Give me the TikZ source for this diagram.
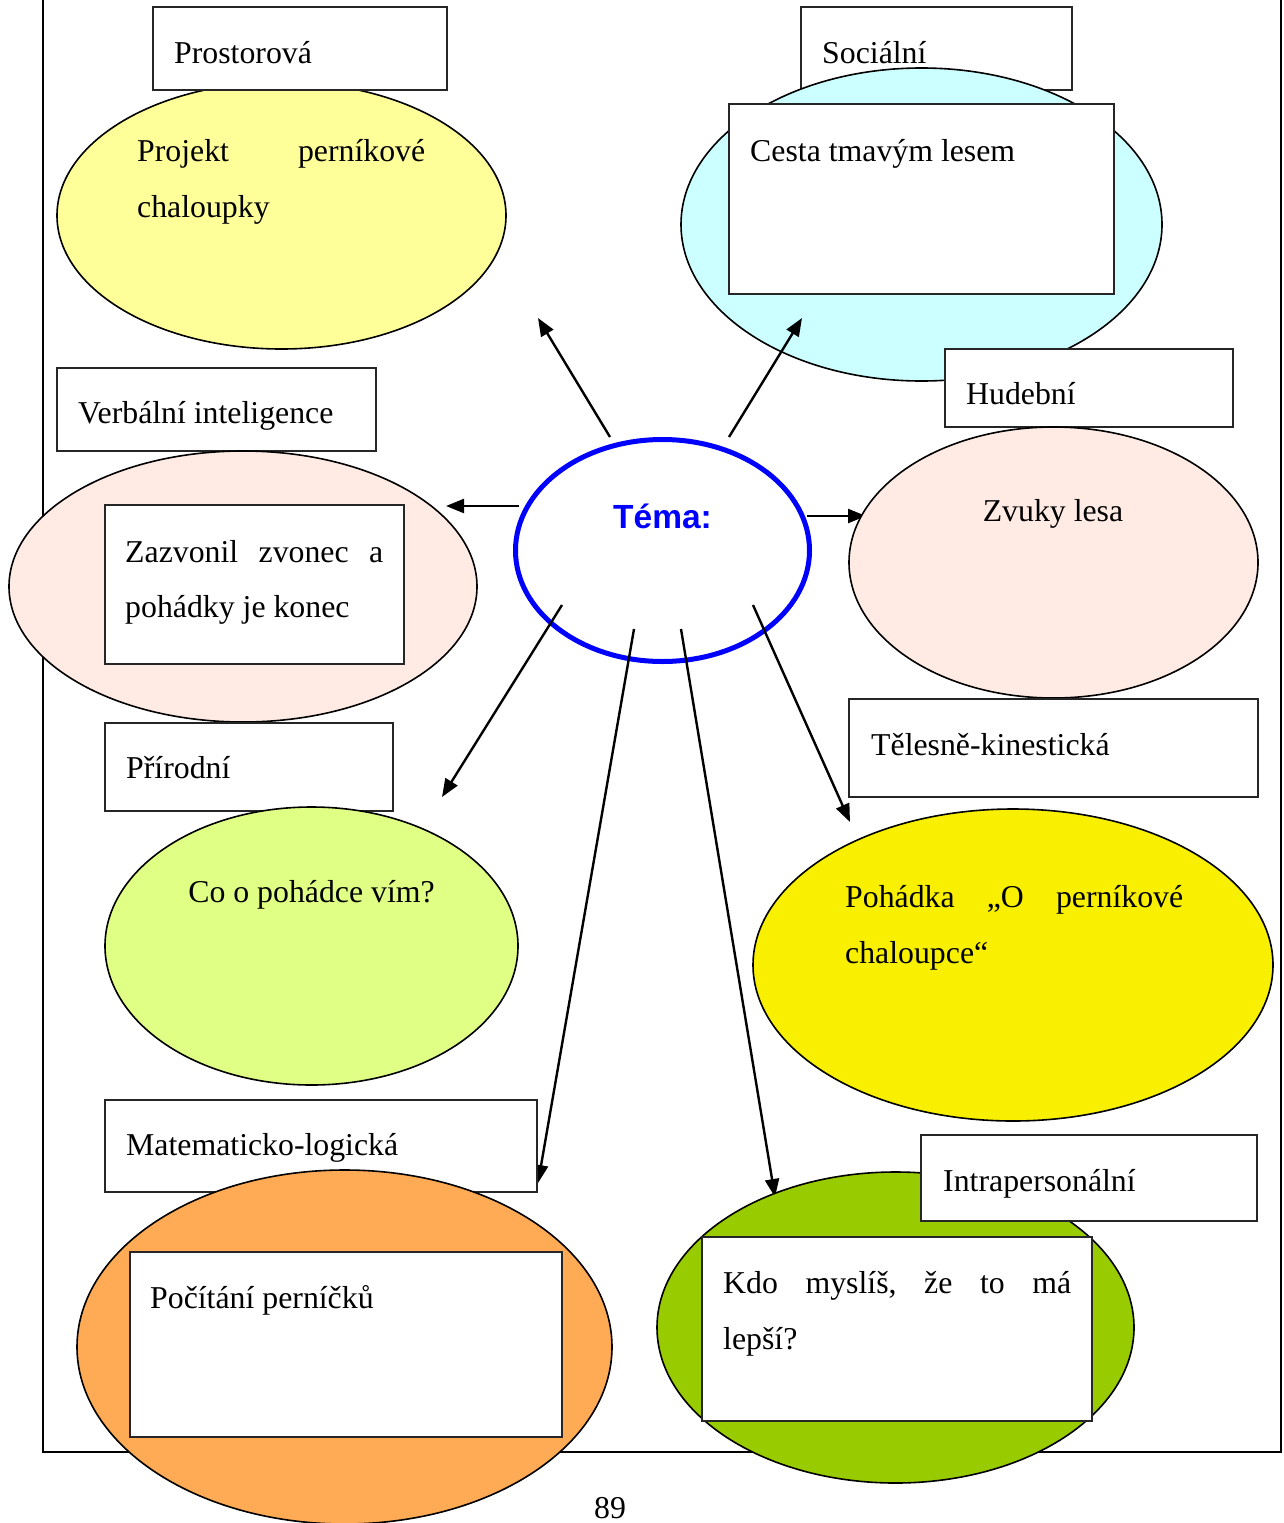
\documentclass[tikz,border=0pt]{standalone}
\usepackage{fontspec}
\setmainfont{Liberation Serif}
\newfontfamily\temafont{Liberation Sans}
\usetikzlibrary{shapes.geometric,arrows.meta}
\definecolor{cyel}{HTML}{FFFF99}
\definecolor{ccyan}{HTML}{CCFFFF}
\definecolor{cpink}{RGB}{255,235,228}
\definecolor{clime}{RGB}{223,255,133}
\definecolor{cyel2}{RGB}{248,240,0}
\definecolor{corange}{RGB}{255,170,85}
\definecolor{cgreen}{HTML}{99CC00}
\begin{document}
\begin{tikzpicture}[x=1pt,y=-1pt,
  lblbox/.style={draw=black!85, line width=1.3pt, fill=white, rectangle, inner sep=0pt},
  oval/.style={ellipse, draw=black, line width=1.6pt, inner sep=0pt},
  txt/.style={inner sep=0pt, anchor=base west, font=\fontsize{31.8}{40}\selectfont},
  ctxt/.style={inner sep=0pt, anchor=base, font=\fontsize{31.8}{40}\selectfont},
  arr/.style={line width=2.4pt, -{Triangle[length=18pt,width=14pt]}},
  framel/.style={line width=2pt}]
\useasboundingbox (0,0) rectangle (1283,1523);
% page frame
\coordinate (f1) at (43,0);
\coordinate (f2) at (43,1452);
\coordinate (f3) at (1281,1452);
\coordinate (f4) at (1281,0);
\draw[framel] (f1) -- (f2) -- (f3) -- (f4);

% Prostorova
\node[oval, fill=cyel, minimum width=449pt, minimum height=267pt] (eP) at (281.5,215.5) {};
\node[lblbox, minimum width=294pt, minimum height=83pt] (bP) at (300,48.5) {};
\node[txt] (tP) at (174,63) {Prostorová};
\node[txt] (tP1) at (137,161) {\hbox to 288pt{Projekt\hfill perníkové}};
\node[txt] (tP2) at (137,217) {chaloupky};

% Socialni
\node[lblbox, minimum width=271pt, minimum height=83pt] (bS) at (936.5,48.5) {};
\node[txt] (tS) at (822,63) {Sociální};
\node[oval, fill=ccyan, minimum width=481pt, minimum height=313pt] (eS) at (921.5,224.5) {};
\node[lblbox, minimum width=385pt, minimum height=190pt] (iS) at (921.5,199) {};
\node[txt] (tS1) at (750,161) {Cesta tmavým lesem};

% Verbalni
\node[lblbox, minimum width=319pt, minimum height=83pt] (bV) at (216.5,409.5) {};
\node[txt] (tV) at (78,423) {Verbální inteligence};
\node[oval, fill=cpink, minimum width=468pt, minimum height=271pt] (eV) at (243,586.5) {};
\node[lblbox, minimum width=299pt, minimum height=159pt] (iV) at (254.5,584.5) {};
\node[txt] (tV1) at (125,562) {\hbox to 258pt{Zazvonil\hfill zvonec\hfill a}};
\node[txt] (tV2) at (125,617) {pohádky je konec};

% centre
\node[ellipse, draw=blue, line width=5pt, fill=white, inner sep=0pt, minimum width=294pt, minimum height=222pt] (c) at (662.5,550.5) {};
\node[inner sep=0pt, anchor=base, text=blue, font=\temafont\bfseries\fontsize{33.5}{40}\selectfont] (tc) at (662.5,528) {Téma:};

% arrows
\coordinate (s1) at (610,437);   \coordinate (e1) at (538,318);
\coordinate (s2) at (729,437);   \coordinate (e2) at (802,318);
\coordinate (s3) at (519,506);   \coordinate (e3) at (446,506);
\coordinate (s4) at (807,516);   \coordinate (e4) at (866,516);
\coordinate (s5) at (562,605);   \coordinate (e5) at (442,797);
\coordinate (s6) at (634,629);   \coordinate (e6) at (538,1183);
\coordinate (s7) at (681,629);   \coordinate (e7) at (775,1197);
\coordinate (s8) at (753,605);   \coordinate (e8) at (850,822);
\foreach \i in {1,...,8} {\draw[arr] (s\i) -- (e\i);}

% Hudebni
\node[lblbox, minimum width=288pt, minimum height=78pt] (bH) at (1089,388) {};
\node[txt] (tH) at (966,404) {Hudební};
\node[oval, fill=cpink, minimum width=409pt, minimum height=271pt] (eH) at (1053.5,562.5) {};
\node[ctxt] (tH1) at (1053,521) {Zvuky lesa};

% Prirodni
\node[lblbox, minimum width=288pt, minimum height=88pt] (bR) at (249,767) {};
\node[txt] (tR) at (126,778) {Přírodní};
\node[oval, fill=clime, minimum width=413pt, minimum height=278pt] (eR) at (311.5,946) {};
\node[ctxt] (tR1) at (311.5,902) {Co o pohádce vím?};

% Telesne
\node[lblbox, minimum width=409pt, minimum height=98pt] (bT) at (1053.5,748) {};
\node[txt] (tT) at (871,755) {Tělesně-kinestická};
\node[oval, fill=cyel2, minimum width=520pt, minimum height=312pt] (eT) at (1013,965) {};
\node[txt] (tT1) at (845,907) {\hbox to 338pt{Pohádka\hfill „O\hfill perníkové}};
\node[txt] (tT2) at (845,963) {chaloupce“};

% Matematicko
\node[lblbox, minimum width=432pt, minimum height=92pt] (bM) at (321,1146) {};
\node[txt] (tM) at (126,1155) {Matematicko-logická};
\node[oval, fill=corange, minimum width=535pt, minimum height=354pt] (eM) at (344.5,1347) {};
\node[lblbox, minimum width=432pt, minimum height=185pt] (iM) at (346,1344.5) {};
\node[txt] (tM1) at (150,1308) {Počítání perníčků};

% Intrapersonalni
\node[oval, fill=cgreen, minimum width=477pt, minimum height=311pt] (eI) at (895.5,1327.5) {};
\node[lblbox, minimum width=336pt, minimum height=86pt] (bI) at (1089,1178) {};
\node[txt] (tI) at (943,1191) {Intrapersonální};
\node[lblbox, minimum width=390pt, minimum height=184pt] (iI) at (897,1329) {};
\node[txt] (tI1) at (723,1293) {\hbox to 348pt{Kdo\hfill myslíš,\hfill že\hfill to\hfill má}};
\node[txt] (tI2) at (723,1349) {lepší?};

% page number
\node[ctxt] (pg) at (610,1518) {89};
\end{tikzpicture}
\end{document}
